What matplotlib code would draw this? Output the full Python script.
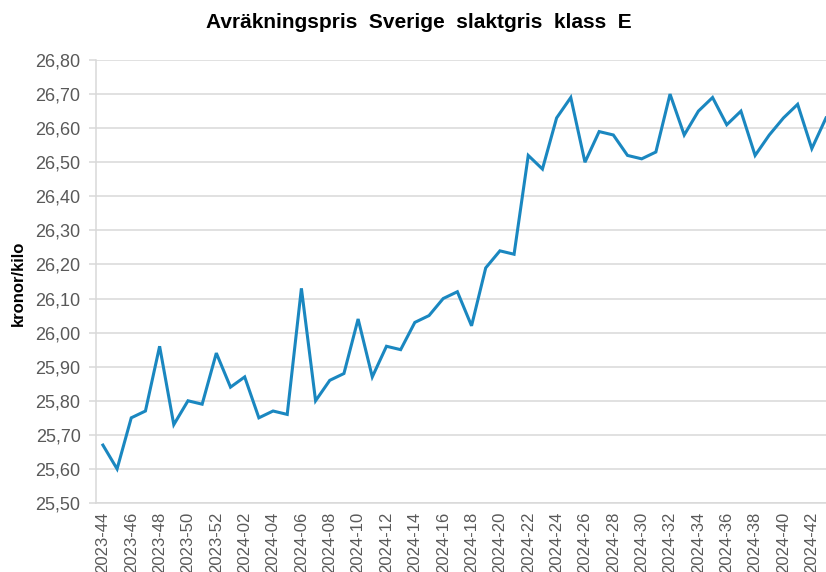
import matplotlib
matplotlib.use("Agg")
import matplotlib.pyplot as plt

plt.rcParams['font.family'] = ['Liberation Sans', 'DejaVu Sans']

# weeks 2023-44 .. 2024-43
weeks = ["2023-%02d" % w for w in range(44, 53)] + ["2024-%02d" % w for w in range(1, 44)]
prices = [25.67, 25.60, 25.75, 25.77, 25.96, 25.73, 25.80, 25.79, 25.94,
          25.84, 25.87, 25.75, 25.77, 25.76, 26.13, 25.80, 25.86, 25.88,
          26.04, 25.87, 25.96, 25.95, 26.03, 26.05, 26.10, 26.12, 26.02,
          26.19, 26.24, 26.23, 26.52, 26.48, 26.63, 26.69, 26.50, 26.59,
          26.58, 26.52, 26.51, 26.53, 26.70, 26.58, 26.65, 26.69, 26.61,
          26.65, 26.52, 26.58, 26.63, 26.67, 26.54, 26.63]
yticks = [25.5 + 0.1 * i for i in range(14)]

fig = plt.figure(figsize=(8.26, 5.72), dpi=100)
ax = fig.add_axes([0.116, 0.1206, 0.884, 0.7745])

x = list(range(len(weeks)))
ax.plot(x, prices, color='#1a87c0', lw=2.2, solid_joinstyle='miter')

ax.set_ylim(25.5, 26.8)
ax.set_yticks(yticks)
ax.set_yticklabels([("%.2f" % v).replace('.', ',') for v in yticks])
ax.set_xlim(-0.5, 51.0)
ax.set_xticks(x[::2])
ax.set_xticklabels(weeks[::2], rotation=90)

ax.grid(axis='y', color='#d9d9d9', lw=1.1)
ax.set_axisbelow(True)
for s in ['top', 'right']:
    ax.spines[s].set_visible(False)
ax.spines['left'].set_color('#d9d9d9')
ax.spines['bottom'].set_color('#d9d9d9')
ax.spines['left'].set_linewidth(1.1)
ax.spines['bottom'].set_linewidth(1.1)
ax.tick_params(axis='y', colors='#d9d9d9', labelcolor='#595959', labelsize=13, length=5, width=1.1, pad=6)
ax.tick_params(axis='x', length=0, labelcolor='#595959', labelsize=12, pad=6)

fig.text(0.507, 0.961, "Avräkningspris  Sverige  slaktgris  klass  E", ha='center', va='center',
         fontsize=15, fontweight='bold', color='black')
fig.text(0.022, 0.505, "kronor/kilo", rotation=90, ha='center', va='center',
         fontsize=12, fontweight='bold', color='black')

fig.savefig("out.png", dpi=100)
